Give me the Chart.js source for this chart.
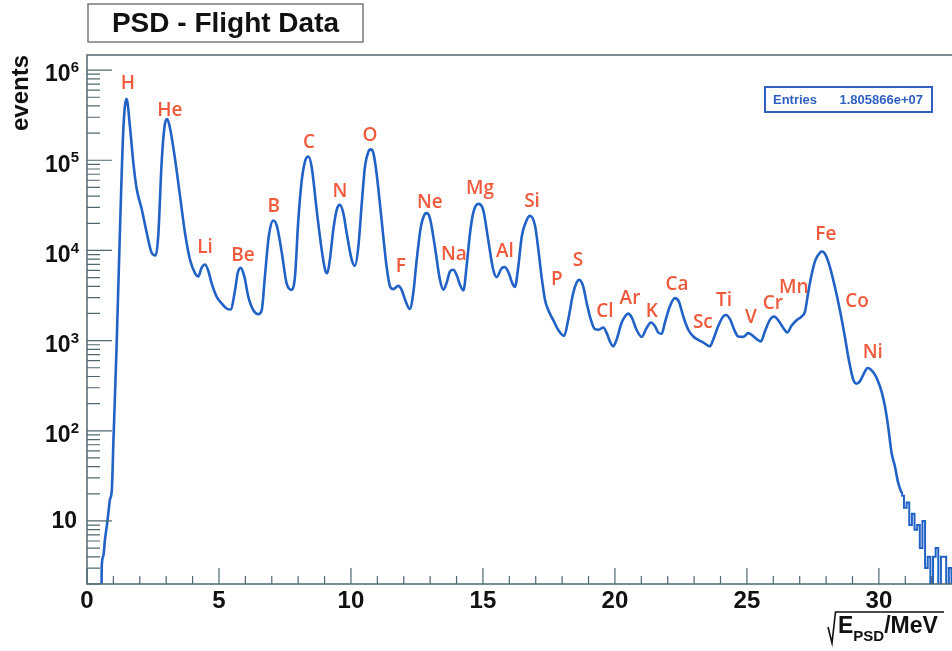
<!DOCTYPE html>
<html>
<head>
<meta charset="utf-8">
<title>PSD - Flight Data</title>
<script src="https://cdn.jsdelivr.net/npm/chart.js@4.4.1/dist/chart.umd.min.js"></script>
<style>
  html, body { margin: 0; padding: 0; background: #fff; }
  #wrap { width: 952px; height: 651px; }
</style>
</head>
<body>
<div id="wrap"><canvas id="psdChart" width="952" height="651"></canvas></div>
<script>
// Histogram of sqrt(E_PSD/MeV)
const curveX = [0.00, 0.54, 0.56, 0.62, 0.68, 0.75, 0.81, 0.87, 0.94, 1.00, 1.12, 1.25, 1.38, 1.50, 1.63, 1.75, 1.88,
    2.07, 2.26, 2.45, 2.60, 2.70, 2.83, 2.95, 3.04, 3.14, 3.33, 3.52, 3.71, 3.90, 4.09, 4.22, 4.34, 4.47, 4.60, 4.72, 4.91,
    5.10, 5.29, 5.44, 5.61, 5.71, 5.82, 5.96, 6.11, 6.30, 6.49, 6.62, 6.74, 6.89, 7.06, 7.19, 7.38, 7.56, 7.75, 7.88,
    8.00, 8.13, 8.26, 8.38, 8.51, 8.70, 8.89, 9.02, 9.10, 9.20, 9.33, 9.46, 9.58, 9.71, 9.84, 10.03, 10.15, 10.28, 10.41,
    10.53, 10.66, 10.75, 10.85, 10.97, 11.16, 11.35, 11.48, 11.60, 11.79, 11.92, 12.05, 12.23, 12.36, 12.49, 12.65, 12.78,
    12.87, 12.99, 13.18, 13.37, 13.50, 13.62, 13.75, 13.88, 14.00, 14.13, 14.26, 14.38, 14.51, 14.63, 14.82, 15.01, 15.20,
    15.39, 15.52, 15.71, 15.83, 15.98, 16.11, 16.21, 16.34, 16.47, 16.66, 16.78, 16.97, 17.10, 17.22, 17.35, 17.47, 17.66,
    17.85, 18.08, 18.23, 18.42, 18.55, 18.65, 18.80, 18.93, 19.09, 19.24, 19.39, 19.56, 19.69, 19.81, 19.94, 20.06, 20.25,
    20.40, 20.50, 20.63, 20.82, 21.01, 21.20, 21.36, 21.52, 21.64, 21.77, 21.89, 22.08, 22.27, 22.42, 22.59, 22.78, 22.97,
    23.16, 23.34, 23.60, 23.72, 23.91, 24.10, 24.20, 24.36, 24.52, 24.67, 24.86, 25.05, 25.18, 25.37, 25.53, 25.68, 25.87,
    26.03, 26.19, 26.38, 26.53, 26.69, 26.88, 27.07, 27.20, 27.32, 27.45, 27.60, 27.77, 27.85, 27.98, 28.14, 28.33, 28.52,
    28.71, 28.86, 29.03, 29.15, 29.28, 29.44, 29.57, 29.70, 29.85, 29.97, 30.10, 30.23, 30.35, 30.48, 30.61, 30.73, 30.86];
const curveY = [1, 1, 3.2, 4.1, 6.2, 8.8, 12.3, 17.3, 22, 75, 842, 17300, 231000, 480000, 231000, 97300, 48700,
    29000, 15800, 9440, 8800, 14600, 97300, 251000, 286000, 231000, 106000, 41000, 15800, 7940, 5620, 5160, 6410, 6980, 5880, 4340, 3080,
    2590, 2270, 2210, 3650, 5620, 6410, 5160, 3080, 2180, 1960, 2180, 5160, 14600, 21500, 18800, 9440, 4340, 3650, 5160,
    20500, 57900, 97300, 110000, 84900, 28200, 10200, 6100, 5600, 7870, 16900, 28200, 32000, 25900, 15500, 7870, 6750, 11000, 33400,
    84900, 124000, 132000, 120000, 71800, 21800, 6630, 3980, 3720, 4050, 3660, 2840, 2240, 3370, 7870, 18400, 24800,
    25900, 22800, 11000, 4720, 3660, 4340, 5830, 6100, 5370, 4160, 3600, 6630, 15500, 25900, 32800, 28200, 13100,
    6100, 5060, 6370, 6530, 5600, 4340, 3930, 6630, 14300, 21800, 24200, 19000, 10200, 5140, 2840, 2200, 1700,
    1320, 1130, 1700, 3370, 4410, 4720, 3980, 2610, 1700, 1340, 1320, 1400, 1210, 980, 863, 1020, 1570,
    1890, 1990, 1820, 1320, 1100, 1380, 1590, 1440, 1230, 1190, 1570, 2390, 2960, 2720, 1850, 1320, 1110,
    1020, 955, 863, 1020, 1440, 1850, 1920, 1730, 1320, 1110, 1100, 1210, 1160, 1040, 980, 1260, 1700,
    1850, 1680, 1380, 1230, 1460, 1680, 1850, 2100, 3370, 5370, 7870, 9480, 9730, 8930, 6630, 3980, 2200,
    1110, 615, 369, 333, 353, 437, 497, 476, 419, 353, 274, 187, 112, 57, 40, 26.5, 20.5];

// noisy high-charge tail, drawn as histogram steps (1 = empty bin)
const tailX = [30.86, 30.9, 31.0, 31.1, 31.2, 31.3, 31.4, 31.5, 31.6, 31.7, 31.8, 31.9, 32.0, 32.1, 32.2, 32.3, 32.4, 32.5, 32.6, 32.7, 32.8];
const tailY = [20.5, 19, 14, 16, 9, 12, 8, 9, 5, 10, 3, 4, 1, 4, 5, 1, 4, 4, 1, 3, 1];

const elementNames = ['H', 'He', 'Li', 'Be', 'B', 'C', 'N', 'O', 'F', 'Ne', 'Na', 'Mg', 'Al', 'Si', 'P', 'S', 'Cl', 'Ar',
    'K', 'Ca', 'Sc', 'Ti', 'V', 'Cr', 'Mn', 'Fe', 'Co', 'Ni'];
const elementX = [1.55, 3.14, 4.47, 5.91, 7.08, 8.41, 9.58, 10.72, 11.89, 12.99, 13.90, 14.89, 15.83, 16.86, 17.80, 18.60,
    19.62, 20.57, 21.40, 22.35, 23.33, 24.13, 25.15, 25.98, 26.78, 27.99, 29.17, 29.77];
const elementY = [700000, 360000, 10700, 8700, 30400, 156000, 44600, 186000, 6700, 33700, 8900, 49000, 9700, 35000, 4700,
    7700, 2100, 2900, 2100, 4200, 1600, 2800, 1800, 2600, 3900, 15000, 2700, 735];

const yDecades = [1, 2, 3, 4, 5, 6];
const entriesValue = '1.805866e+07';

const axisColor = '#4f6870';
const labelFont = '"Liberation Sans", Arial, sans-serif';

const rootStyle = {
    id: 'rootStyle',
    afterDatasetsDraw(chart) {
        const ctx = chart.ctx;
        const area = chart.chartArea;
        const xs = chart.scales.x;
        const ys = chart.scales.y;
        ctx.save();
        ctx.strokeStyle = axisColor;
        ctx.lineWidth = 1.5;
        ctx.beginPath();
        ctx.moveTo(area.right, area.top);
        ctx.lineTo(area.left, area.top);
        ctx.lineTo(area.left, area.bottom);
        ctx.lineTo(area.right, area.bottom);
        ctx.stroke();

        // ticks drawn inside the frame, ROOT style
        ctx.lineWidth = 1.2;
        ctx.beginPath();
        for (let v = 0; v <= xs.max; v++) {
            const px = xs.getPixelForValue(v);
            const len = v % 5 === 0 ? 16 : 8;
            ctx.moveTo(px, area.bottom);
            ctx.lineTo(px, area.bottom - len);
        }
        for (let k = 0; k <= 6; k++) {
            for (let m = 1; m <= 9; m++) {
                const v = m * Math.pow(10, k);
                if (v < ys.min || v > ys.max) continue;
                const py = ys.getPixelForValue(v);
                ctx.moveTo(area.left, py);
                ctx.lineTo(area.left + (m === 1 ? 25 : 13), py);
            }
        }
        ctx.stroke();
        ctx.restore();
    },
    afterDraw(chart) {
        const ctx = chart.ctx;
        const xs = chart.scales.x;
        const ys = chart.scales.y;
        ctx.save();

        // y tick labels with exponents
        ctx.fillStyle = '#111';
        ctx.textBaseline = 'middle';
        yDecades.forEach(p => {
            const py = ys.getPixelForValue(Math.pow(10, p));
            if (p === 1) {
                ctx.font = 'bold 23px ' + labelFont;
                ctx.textAlign = 'right';
                ctx.fillText('10', 77, py + 1);
                return;
            }
            ctx.font = 'bold 15px ' + labelFont;
            const expText = String(p);
            const ew = ctx.measureText(expText).width;
            ctx.textAlign = 'right';
            ctx.fillText(expText, 79, py - 2);
            ctx.font = 'bold 23px ' + labelFont;
            ctx.fillText('10', 79 - ew, py + 5);
        });

        // axis titles
        ctx.save();
        ctx.translate(28, 55);
        ctx.rotate(-Math.PI / 2);
        ctx.font = 'bold 24px ' + labelFont;
        ctx.textAlign = 'right';
        ctx.textBaseline = 'alphabetic';
        ctx.fillText('events', 0, 0);
        ctx.restore();

        ctx.strokeStyle = '#111';
        ctx.lineWidth = 1.6;
        ctx.beginPath();
        ctx.moveTo(828, 627);
        ctx.lineTo(832, 643);
        ctx.lineTo(835.5, 612);
        ctx.lineTo(944, 612);
        ctx.stroke();
        ctx.textAlign = 'left';
        ctx.textBaseline = 'alphabetic';
        ctx.font = 'bold 23px ' + labelFont;
        ctx.fillText('E', 838, 633);
        let cx = 838 + ctx.measureText('E').width;
        ctx.font = 'bold 15px ' + labelFont;
        ctx.fillText('PSD', cx, 641);
        cx += ctx.measureText('PSD').width;
        ctx.font = 'bold 23px ' + labelFont;
        ctx.fillText('/MeV', cx, 633);

        // element names over the peaks
        ctx.fillStyle = '#f05a3c';
        ctx.font = '600 19px "Open Sans", sans-serif';
        ctx.textAlign = 'center';
        ctx.textBaseline = 'middle';
        elementNames.forEach((name, i) => {
            ctx.fillText(name, xs.getPixelForValue(elementX[i]), ys.getPixelForValue(elementY[i]));
        });

        // title box
        ctx.fillStyle = '#fff';
        ctx.fillRect(88, 4, 275, 38);
        ctx.strokeStyle = '#7a7a7a';
        ctx.lineWidth = 1.5;
        ctx.strokeRect(88, 4, 275, 38);
        ctx.fillStyle = '#111';
        ctx.font = 'bold 28px ' + labelFont;
        ctx.textAlign = 'center';
        ctx.fillText('PSD - Flight Data', 225.5, 24);

        // stats box
        ctx.strokeStyle = '#2f5fc0';
        ctx.lineWidth = 2;
        ctx.strokeRect(765, 87, 167, 25);
        ctx.fillStyle = '#2f5fc0';
        ctx.font = 'bold 13px ' + labelFont;
        ctx.textAlign = 'left';
        ctx.fillText('Entries', 773, 100);
        ctx.textAlign = 'right';
        ctx.fillText(entriesValue, 923, 100);
        ctx.restore();
    }
};

new Chart(document.getElementById('psdChart'), {
    type: 'line',
    data: {
        datasets: [
            {
                data: curveX.map((x, i) => ({ x: x, y: curveY[i] })),
                borderColor: '#2162c6',
                borderWidth: 2.6,
                pointRadius: 0,
                cubicInterpolationMode: 'monotone',
                fill: false
            },
            {
                data: tailX.map((x, i) => ({ x: x, y: tailY[i] })),
                borderColor: '#2162c6',
                borderWidth: 2,
                pointRadius: 0,
                stepped: 'middle',
                fill: false
            }
        ]
    },
    options: {
        responsive: false,
        animation: false,
        layout: { padding: { top: 55, right: 0, left: 0, bottom: 0 } },
        plugins: {
            legend: { display: false },
            tooltip: { enabled: false }
        },
        scales: {
            x: {
                type: 'linear',
                min: 0,
                max: 32.77,
                grid: { display: false, drawTicks: false },
                border: { display: false },
                ticks: {
                    stepSize: 5,
                    includeBounds: false,
                    autoSkip: false,
                    maxRotation: 0,
                    padding: 3,
                    color: '#111',
                    font: { family: labelFont, weight: 'bold', size: 24 }
                },
                afterFit: scale => { scale.height = 67; }
            },
            y: {
                type: 'logarithmic',
                min: 2,
                max: 1.47e6,
                grid: { display: false, drawTicks: false },
                border: { display: false },
                ticks: { display: false },
                afterFit: scale => { scale.width = 87; }
            }
        }
    },
    plugins: [rootStyle]
});
</script>
</body>
</html>
